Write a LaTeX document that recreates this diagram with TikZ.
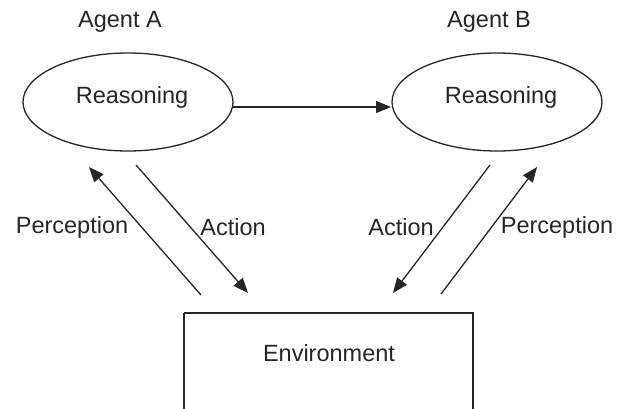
\documentclass[tikz,border=0pt]{standalone}
\usepackage{fontspec}
\setmainfont{Liberation Sans}
\usetikzlibrary{shapes.geometric,arrows.meta}
\begin{document}
\begin{tikzpicture}[x=1pt,y=-1pt,
  every node/.style={font=\fontsize{23.5}{28}\selectfont, text=black!85, inner sep=0pt},
  reasonbox/.style={draw=black!85, ellipse, line width=1.3pt, minimum width=210pt, minimum height=98pt},
  envbox/.style={draw=black!85, line width=1.3pt},
  flow/.style={draw=black!85, line width=1.3pt, -{Triangle[length=15pt,width=12pt]}}]
\useasboundingbox (0,0) rectangle (619,408);
\fill[white] (0,0) rectangle (619,408);
% agents
\node (agA) at (120,22) {Agent A};
\node (agB) at (489,22) {Agent B};
\node[reasonbox] (ra) at (128,102) {};
\node[reasonbox] (rb) at (497,102) {};
\node (raT) at (132,97) {Reasoning};
\node (rbT) at (501,97) {Reasoning};
% environment
\draw[envbox] (184,313) -- (473,313) -- (473,420) (184,313) -- (184,420);
\node (env) at (329,353) {Environment};
% connector end points
\coordinate (h1) at (233,107);
\coordinate (h2) at (391,107);
\coordinate (pa1) at (201,295);
\coordinate (pa2) at (89,167);
\coordinate (aa1) at (136,165);
\coordinate (aa2) at (248,293);
\coordinate (ab1) at (490,165);
\coordinate (ab2) at (393,293);
\coordinate (pb1) at (441,294);
\coordinate (pb2) at (537,167);
\draw[flow] (h1) -- (h2);
\draw[flow] (pa1) -- (pa2);
\draw[flow] (aa1) -- (aa2);
\draw[flow] (ab1) -- (ab2);
\draw[flow] (pb1) -- (pb2);
% labels
\node (lpa) at (72,227) {Perception};
\node (laa) at (233,227) {Action};
\node (lab) at (401,227) {Action};
\node (lpb) at (557,227) {Perception};
\end{tikzpicture}
\end{document}
